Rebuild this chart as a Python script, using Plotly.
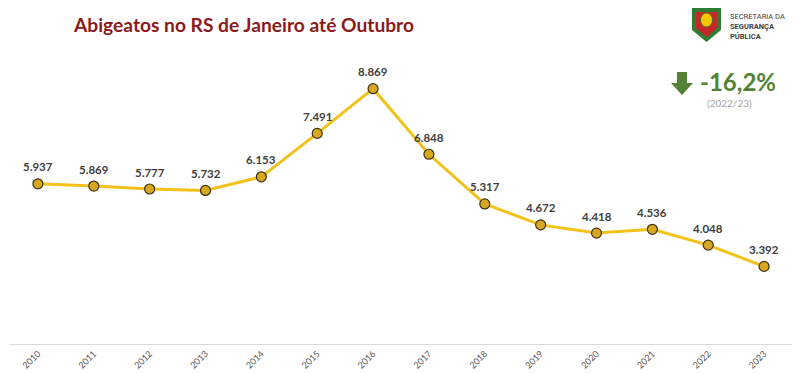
import plotly.graph_objects as go

years = ["2010", "2011", "2012", "2013", "2014", "2015", "2016",
         "2017", "2018", "2019", "2020", "2021", "2022", "2023"]
abigeatos = [5937, 5869, 5777, 5732, 6153, 7491, 8869,
             6848, 5317, 4672, 4418, 4536, 4048, 3392]
variation_label = "-16,2%"
variation_period = "(2022/23)"

labels = [f"{v:,}".replace(",", ".") for v in abigeatos]

# page body has an 8px margin: size the figure so it fits the 800x374 window
OFF = 8
W, H = 800 - OFF, 374 - OFF
L, R, T, B = 2, 8, 44, 30
pw, ph = W - L - R, H - T - B


def px(x):
    return (x - OFF - L) / pw


def py(y):
    return (H - B - (y - OFF)) / ph


fig = go.Figure()
fig.add_trace(go.Scatter(
    x=years, y=abigeatos, mode="lines+markers",
    line=dict(color="#F2C21B", width=3),
    marker=dict(size=10, color="#D9A71E", line=dict(color="#3D3215", width=1.2)),
    cliponaxis=False, hoverinfo="skip",
))

for i, (v, lab) in enumerate(zip(abigeatos, labels)):
    fig.add_annotation(x=i, y=v, text=f"<b>{lab}</b>", showarrow=False,
                       yshift=17, xanchor="center", yanchor="middle",
                       font=dict(family="Lato, Open Sans, sans-serif", size=11.5, color="#404040"))

fig.update_layout(
    width=W, height=H,
    margin=dict(l=L, r=R, t=T, b=B, autoexpand=False),
    paper_bgcolor="white", plot_bgcolor="white",
    showlegend=False,
    xaxis=dict(type="category", showgrid=False, showline=True, linecolor="#D9D9D9",
               linewidth=1, ticks="", tickangle=-45, automargin=False,
               tickfont=dict(family="Lato, Open Sans, sans-serif", size=9, color="#595959"),
               range=[-0.5, 13.5], fixedrange=True),
    yaxis=dict(range=[1000, 10000], showgrid=False, showline=False, showticklabels=False,
               zeroline=False, fixedrange=True, automargin=False),
)

# Title
fig.add_annotation(text="<b>Abigeatos no RS de Janeiro até Outubro</b>",
                   xref="paper", yref="paper", x=px(71), y=py(24),
                   xanchor="left", yanchor="middle", showarrow=False,
                   font=dict(family="Lato, Open Sans, sans-serif", size=19.2, color="#8B1A1A"))

# Variation indicator
arrow_path = (f"M {px(677)},{py(72)} L {px(687)},{py(72)} L {px(687)},{py(83)} "
              f"L {px(693)},{py(83)} L {px(682)},{py(95)} L {px(671)},{py(83)} "
              f"L {px(677)},{py(83)} Z")
fig.add_shape(type="path", path=arrow_path, xref="paper", yref="paper",
              fillcolor="#548235", line=dict(width=0))
fig.add_annotation(text=f"<b>{variation_label}</b>", xref="paper", yref="paper",
                   x=px(698), y=py(82), xanchor="left", yanchor="middle", showarrow=False,
                   font=dict(family="Lato, Open Sans, sans-serif", size=24, color="#548235"))
fig.add_annotation(text=variation_period, xref="paper", yref="paper",
                   x=px(729), y=py(103), xanchor="center", yanchor="middle", showarrow=False,
                   font=dict(family="Lato, Open Sans, sans-serif", size=10, color="#A6A6A6"))

# Logo (simplified crest)
fig.add_shape(type="path",
              path=f"M {px(692)},{py(8)} L {px(721)},{py(8)} L {px(721)},{py(30)} "
                   f"L {px(706.5)},{py(42)} L {px(692)},{py(30)} Z",
              xref="paper", yref="paper", fillcolor="#2E7D32", line=dict(width=0))
fig.add_shape(type="path",
              path=f"M {px(696)},{py(12)} L {px(717)},{py(12)} L {px(717)},{py(28)} "
                   f"L {px(706.5)},{py(37)} L {px(696)},{py(28)} Z",
              xref="paper", yref="paper", fillcolor="#C62828", line=dict(width=0))
fig.add_shape(type="circle", x0=px(700.5), x1=px(712.5), y0=py(13), y1=py(27),
              xref="paper", yref="paper", fillcolor="#F9C800", line=dict(color="#4E6E3A", width=1))
fig.add_annotation(text="SECRETARIA DA<br><b>SEGURANÇA</b><br><b>PÚBLICA</b>",
                   xref="paper", yref="paper", x=px(728), y=py(26),
                   xanchor="left", yanchor="middle", align="left", showarrow=False,
                   font=dict(family="Roboto, sans-serif", size=7.5, color="#404040"))

fig.write_html("out.html")
